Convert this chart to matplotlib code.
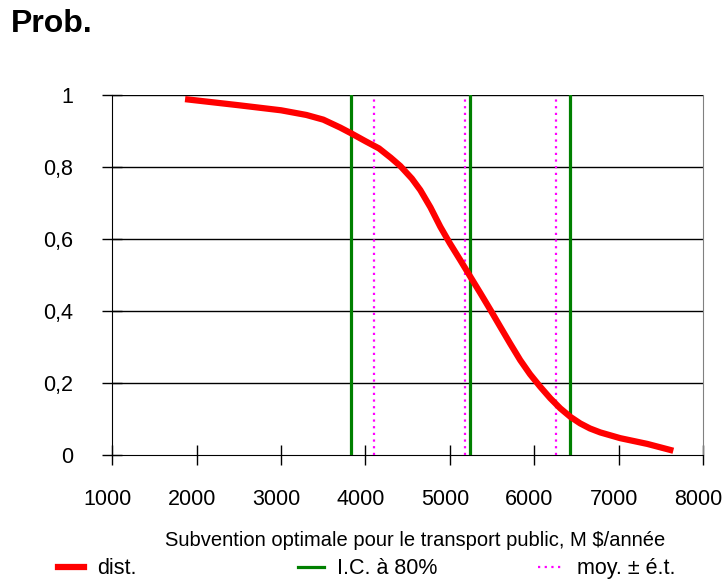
import numpy as np
import matplotlib
matplotlib.use("Agg")
import matplotlib.pyplot as plt
import matplotlib.transforms as mtransforms
from matplotlib.lines import Line2D
from matplotlib.ticker import FuncFormatter

plt.rcParams['font.family'] = ['Liberation Sans', 'DejaVu Sans']

# Distribution curve (subvention, prob.)
dist_x = [1862, 2200, 2500, 3000, 3300, 3500, 3700, 3830, 4000, 4160, 4300, 4413,
          4550, 4650, 4770, 4887, 5000, 5124, 5243, 5360, 5480, 5597, 5715, 5834,
          5950, 6071, 6190, 6308, 6430, 6545, 6660, 6782, 7019, 7340, 7648]
dist_y = [0.989, 0.980, 0.972, 0.958, 0.945, 0.932, 0.910, 0.894, 0.872, 0.852, 0.826, 0.803,
          0.768, 0.736, 0.688, 0.634, 0.588, 0.541, 0.495, 0.450, 0.403, 0.356, 0.309, 0.263,
          0.224, 0.189, 0.157, 0.129, 0.105, 0.087, 0.073, 0.062, 0.046, 0.030, 0.011]
# 80% confidence interval and mean +/- sd
ic_x = [3830, 5243, 6429]
moy_x = [4100, 5184, 6263]

xticks = [1000, 2000, 3000, 4000, 5000, 6000, 7000, 8000]
yticks = [0, 0.2, 0.4, 0.6, 0.8, 1]

fig = plt.figure(figsize=(7.27, 5.84), dpi=100)
ax = fig.add_axes([0.1545, 0.2214, 0.8125, 0.6156])

for y in yticks[1:]:
    ax.axhline(y, color='black', lw=1, zorder=1)

for x in ic_x:
    ax.plot([x, x], [0, 1.0], color='#008000', lw=2.3, zorder=3)
for x in moy_x:
    ax.plot([x, x], [0, 0.99], color='#ff00ff', lw=1.6, linestyle=(0, (1, 2)), zorder=3)

ax.plot(dist_x, dist_y, color='#ff0000', lw=4.5, solid_capstyle='butt', zorder=4)

ax.set_xlim(1000, 8000)
ax.set_ylim(0, 1)
ax.set_xticks(xticks)
ax.set_yticks(yticks)
ax.yaxis.set_major_formatter(FuncFormatter(lambda v, p: ('%g' % v).replace('.', ',')))
ax.tick_params(direction='inout', length=14, width=1, labelsize=15.5)
ax.tick_params(axis='x', pad=18)
ax.tick_params(axis='y', pad=21)

# x labels sit a little left of their ticks in the original
shift = mtransforms.ScaledTranslation(-5 / 100, 0, fig.dpi_scale_trans)
for lab in ax.get_xticklabels():
    lab.set_transform(lab.get_transform() + shift)

ax.spines['left'].set_color('black')
ax.spines['bottom'].set_color('black')
ax.spines['top'].set_visible(False)
ax.spines['right'].set_color('#808080')

fig.text(0.015, 0.959, 'Prob.', fontsize=23, fontweight='bold', va='center')
fig.text(0.571, 0.075, 'Subvention optimale pour le transport public, M $/année',
         fontsize=14.5, ha='center', va='center')

# legend entries placed one by one to keep the original spacing
leg_items = [
    (Line2D([], [], color='#ff0000', lw=4.5), 'dist.', 58),
    (Line2D([], [], color='#008000', lw=2.3), 'I.C. à 80%', 298),
    (Line2D([], [], color='#ff00ff', lw=1.6, linestyle=(0, (1, 2))), 'moy. ± é.t.', 538),
]
for h, lab, px in leg_items:
    fig.legend([h], [lab], loc='center left', bbox_to_anchor=(px / 727, 0.026),
               frameon=False, fontsize=15.5, handlelength=1.2, handletextpad=0.6,
               borderpad=0, borderaxespad=0)

fig.savefig('out.png', dpi=100)
